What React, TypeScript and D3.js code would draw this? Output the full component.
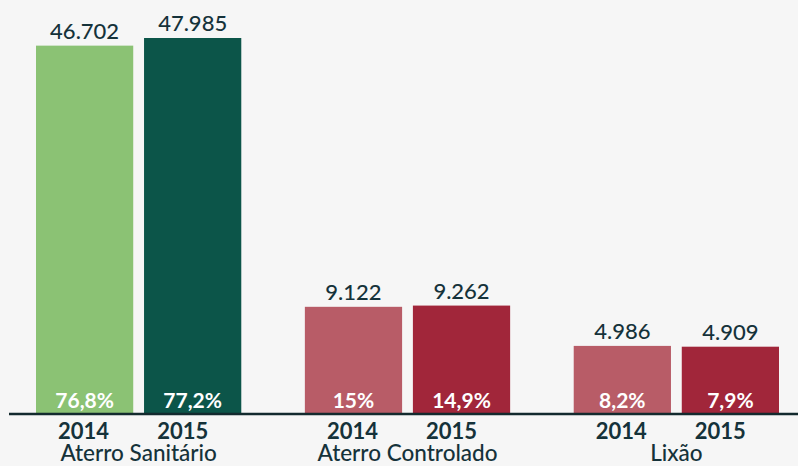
import React from 'react';
import * as d3 from 'd3';

const groups = ['Aterro Sanitário', 'Aterro Controlado', 'Lixão'];
const years = ['2014', '2015'];
const values2014 = [46702, 9122, 4986];
const values2015 = [47985, 9262, 4909];
const shares2014 = [76.8, 15, 8.2];
const shares2015 = [77.2, 14.9, 7.9];

const W = 798;
const H = 466;
const margin = { left: 36, right: 19, top: 38, baseline: 413 };

const colors: Record<string, string[]> = {
  '2014': ['#8bc274', '#b85c67', '#b85c67'],
  '2015': ['#0c5549', '#a1263a', '#a1263a'],
};
const textColor = '#15323a';
const yearShift: Record<string, number> = { '2014': -1, '2015': -10 };

const locale = d3.formatLocale({ decimal: ',', thousands: '.', grouping: [3], currency: ['', ''] });
const fmtValue = locale.format(',d');
const fmtShare = (v: number) => locale.format('.1~f')(v) + '%';

export default function App() {
  const rows = groups.flatMap((g, i) => [
    { group: g, year: '2014', value: values2014[i], share: shares2014[i], color: colors['2014'][i] },
    { group: g, year: '2015', value: values2015[i], share: shares2015[i], color: colors['2015'][i] },
  ]);

  const x0 = d3.scaleBand<string>().domain(groups).range([margin.left, W - margin.right]).paddingInner(0.2365).paddingOuter(0);
  const x1 = d3.scaleBand<string>().domain(years).range([0, x0.bandwidth()]).paddingInner(0.1).paddingOuter(0);
  const maxV = d3.max(rows, (d) => d.value) as number;
  const y = d3.scalePow().exponent(0.76).domain([0, maxV]).range([margin.baseline, margin.top]);

  const font = 'Lato, "Open Sans", sans-serif';

  return (
    <svg width={W} height={H} style={{ position: 'absolute', left: 0, top: 0, display: 'block' }} fontFamily={font}>
      <rect x={0} y={0} width={W} height={H} fill="#f6f6f6" />
      {rows.map((d, i) => {
        const bx = (x0(d.group) as number) + (x1(d.year) as number);
        const bw = x1.bandwidth();
        const cx = bx + bw / 2;
        const top = y(d.value);
        return (
          <g key={i}>
            <rect x={bx} y={top} width={bw} height={margin.baseline - top} fill={d.color} />
            <text x={cx} y={top - 7} textAnchor="middle" fontSize={22} fill={textColor} fontWeight={500}>
              {fmtValue(d.value)}
            </text>
            <text x={cx} y={408} textAnchor="middle" fontSize={21} fill="#ffffff" fontWeight={700}>
              {fmtShare(d.share)}
            </text>
            <text x={cx + yearShift[d.year]} y={439} textAnchor="middle" fontSize={22} fill={textColor} fontWeight={700}>
              {d.year}
            </text>
          </g>
        );
      })}
      <line x1={9} x2={W} y1={414} y2={414} stroke="#132a2e" strokeWidth={2.5} />
      {groups.map((g) => (
        <text key={g} x={(x0(g) as number) + x0.bandwidth() / 2} y={461} textAnchor="middle" fontSize={22.5} fill={textColor} fontWeight={500}>
          {g}
        </text>
      ))}
    </svg>
  );
}
